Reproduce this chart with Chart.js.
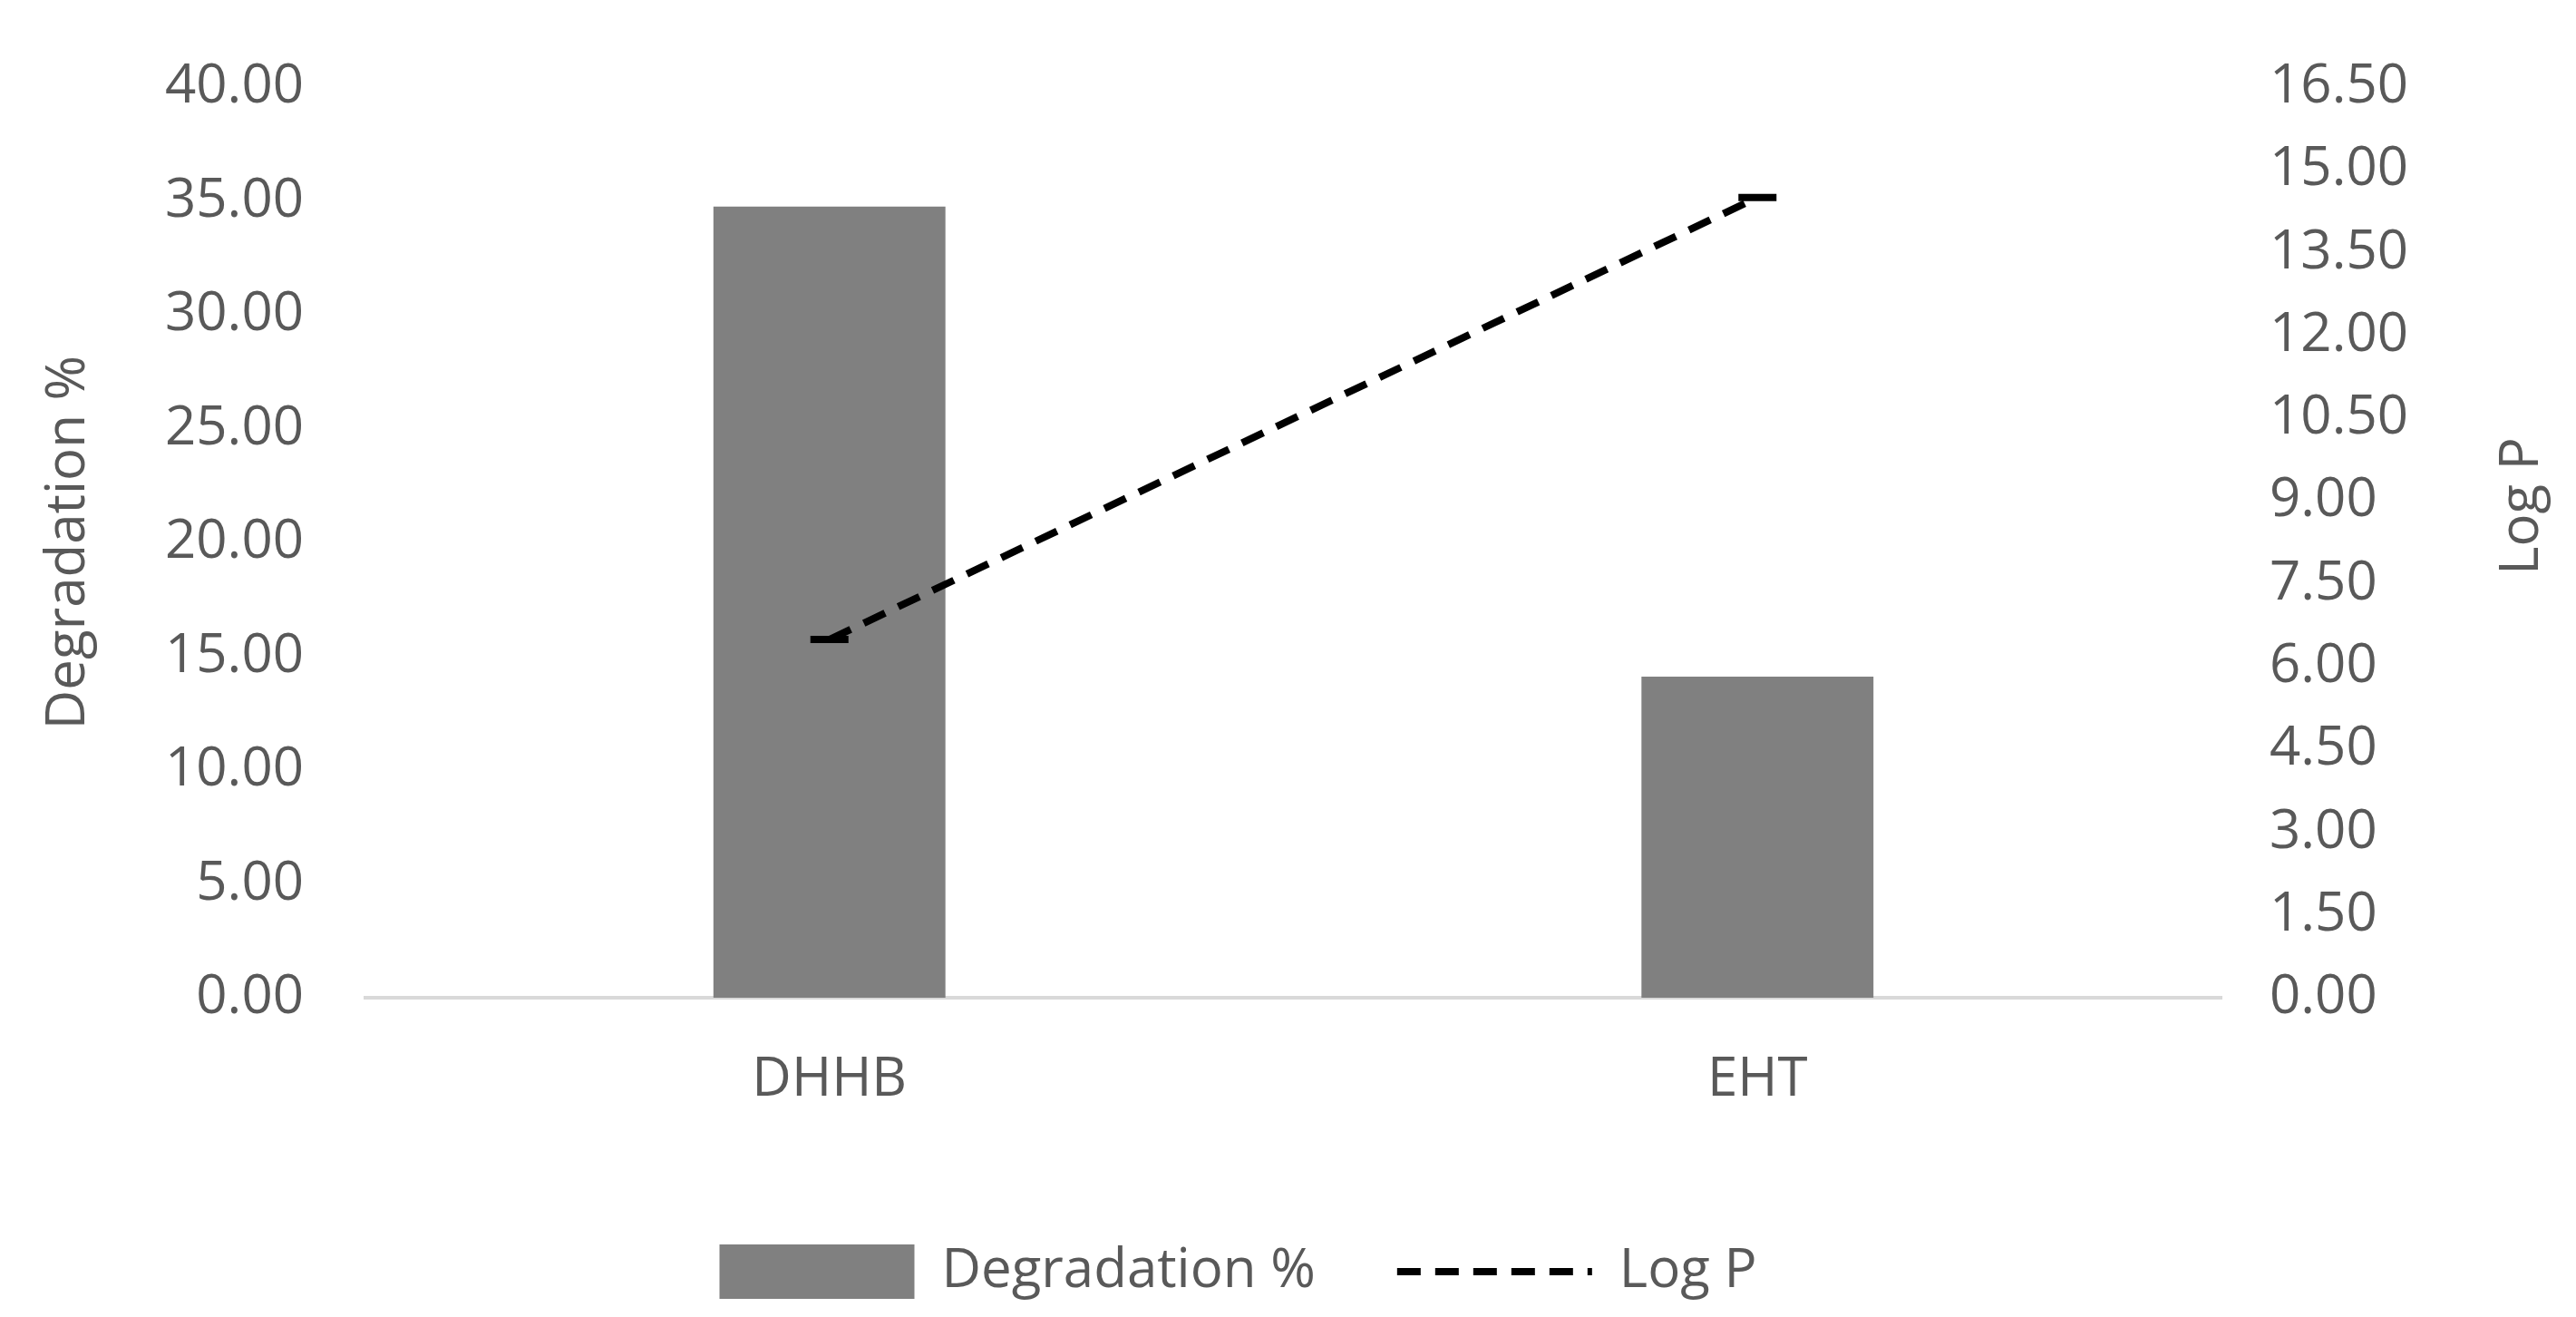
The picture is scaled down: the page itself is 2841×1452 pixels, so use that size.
<!DOCTYPE html>
<html>
<head>
<meta charset="utf-8">
<script src="https://cdn.jsdelivr.net/npm/chart.js@4"></script>
<style>
  html, body { margin: 0; padding: 0; background: #fff; }
  #wrap { width: 2841px; height: 1452px; }
</style>
</head>
<body>
<div id="wrap"><canvas id="chart" width="2841" height="1452"></canvas></div>
<script>
// Values
const categories = ['DHHB', 'EHT'];
const degradation = [34.75, 14.1];
const logP = [6.49, 14.5];

const textColor = '#595959';
const fontFamily = '"Open Sans", "Liberation Sans", sans-serif';
const fontSize = 60;

// Draw the right axis title bottom-to-top, like the left one
const rightTitle = {
    id: 'rightTitle',
    afterDraw(chart) {
        const ctx = chart.ctx;
        const y1 = chart.scales.y1;
        ctx.save();
        ctx.translate(2782, (y1.top + y1.bottom) / 2 - 40);
        ctx.rotate(-Math.PI / 2);
        ctx.fillStyle = textColor;
        ctx.font = fontSize + 'px ' + fontFamily;
        ctx.textAlign = 'center';
        ctx.textBaseline = 'middle';
        ctx.fillText('Log P', 0, 0);
        ctx.restore();
    }
};

new Chart(document.getElementById('chart').getContext('2d'), {
    data: {
        labels: categories,
        datasets: [
            {
                type: 'line',
                label: 'Log P',
                data: logP,
                yAxisID: 'y1',
                borderColor: '#000',
                backgroundColor: '#000',
                borderWidth: 8,
                borderDash: [26, 16],
                pointRadius: 21,
                pointHoverRadius: 21,
                pointBackgroundColor: '#000',
                pointStyle: 'line',
                order: 0
            },
            {
                type: 'bar',
                label: 'Degradation %',
                data: degradation,
                yAxisID: 'y',
                backgroundColor: '#808080',
                categoryPercentage: 1,
                barPercentage: 0.25,
                order: 1
            }
        ]
    },
    options: {
        responsive: false,
        animation: false,
        elements: { point: { pointStyle: 'circle' } },
        layout: { padding: { top: 30, left: 30, right: 140, bottom: 10 } },
        plugins: {
            tooltip: { enabled: false },
            legend: {
                position: 'bottom',
                reverse: true,
                labels: {
                    color: textColor,
                    font: { size: fontSize, family: fontFamily },
                    usePointStyle: true,
                    pointStyleWidth: 215,
                    boxHeight: 60,
                    padding: 90,
                    generateLabels(chart) {
                        const items = Chart.defaults.plugins.legend.labels.generateLabels(chart);
                        items.forEach(it => {
                            it.pointStyle = it.text === 'Log P' ? 'line' : 'rect';
                            if (it.text === 'Log P') { it.lineWidth = 8; it.lineDash = [26, 16]; }
                            else { it.lineWidth = 0; }
                        });
                        return items;
                    }
                }
            }
        },
        scales: {
            x: {
                grid: { display: false, drawTicks: false },
                border: { color: '#d9d9d9', width: 4 },
                ticks: { color: textColor, font: { size: fontSize, family: fontFamily }, padding: 55 }
            },
            y: {
                position: 'left',
                min: 0, max: 40,
                grid: { display: false },
                border: { display: false },
                ticks: {
                    stepSize: 5, color: textColor, padding: 60,
                    font: { size: fontSize, family: fontFamily },
                    callback: v => v.toFixed(2)
                },
                title: {
                    display: true, text: 'Degradation %', color: textColor,
                    font: { size: fontSize, family: fontFamily }, padding: 10
                }
            },
            y1: {
                position: 'right',
                min: 0, max: 16.5,
                grid: { display: false },
                border: { display: false },
                ticks: {
                    stepSize: 1.5, color: textColor, padding: 45,
                    font: { size: fontSize, family: fontFamily },
                    callback: v => v.toFixed(2)
                }
            }
        }
    },
    plugins: [rightTitle]
});
</script>
</body>
</html>
